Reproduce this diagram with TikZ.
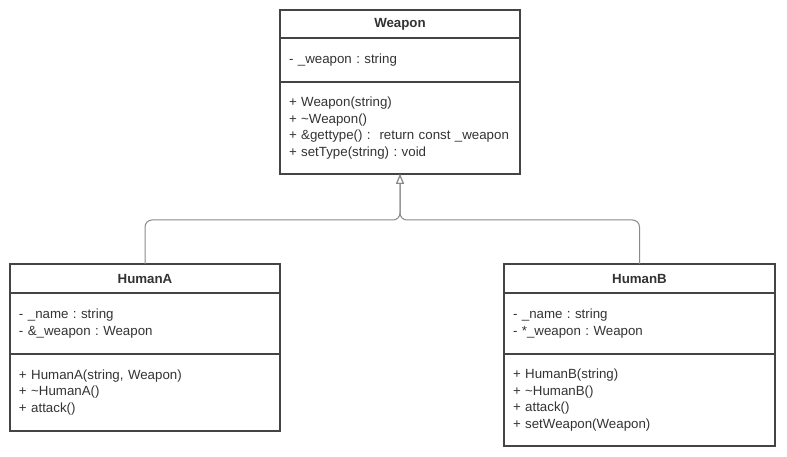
\documentclass[tikz,border=0pt]{standalone}
\usepackage{fontspec}
\setmainfont{Liberation Sans}
\usepackage{xcolor}
\usetikzlibrary{arrows.meta,positioning}
\frenchspacing
\definecolor{boxline}{HTML}{444444}
\definecolor{txtc}{HTML}{333333}
\definecolor{linkc}{HTML}{8A8A8A}
\tikzset{
  clsname/.style={draw=boxline, line width=1.5pt, inner sep=0pt, outer sep=0pt,
    align=center, text=txtc, font=\fontsize{13.3}{16.5}\selectfont\bfseries},
  clsbody/.style={draw=boxline, line width=1.5pt, inner xsep=9pt, inner ysep=0pt,
    outer sep=0pt, align=left, text=txtc, font=\fontsize{13.3}{16.5}\selectfont},
  inherit/.style={draw=linkc, line width=1pt, rounded corners=7pt,
    -{Triangle[open, length=10pt, width=8pt]}}
}

\begin{document}
\begin{tikzpicture}[x=1pt, y=-1pt]
  \useasboundingbox (0,0) rectangle (787,457);

  % base class
  \node[clsname, minimum width=240, minimum height=28, anchor=north west] (wpn) at (280,10) {Weapon};
  \node[clsbody, text width=222, minimum height=44, below=0pt of wpn] (wpnattr)
    {- \_weapon : string};
  \node[clsbody, text width=222, minimum height=92, below=0pt of wpnattr] (wpnmeth)
    {+ Weapon(string)\\+ \textasciitilde Weapon()\\+ \&gettype() :\ \ return const \_weapon\\+ setType(string) : void};

  % HumanA
  \node[clsname, minimum width=270, minimum height=29, anchor=north west] (huma) at (10,264) {HumanA};
  \node[clsbody, text width=252, minimum height=61, below=0pt of huma] (humaattr)
    {- \_name : string\\- \&\_weapon : Weapon};
  \node[clsbody, text width=252, minimum height=77, below=0pt of humaattr] (humameth)
    {+ HumanA(string, Weapon)\\+ \textasciitilde HumanA()\\+ attack()};

  % HumanB
  \node[clsname, minimum width=271, minimum height=29, anchor=north west] (humb) at (504,264) {HumanB};
  \node[clsbody, text width=253, minimum height=61, below=0pt of humb] (humbattr)
    {- \_name : string\\- *\_weapon : Weapon};
  \node[clsbody, text width=253, minimum height=92, below=0pt of humbattr] (humbmeth)
    {+ HumanB(string)\\+ \textasciitilde HumanB()\\+ attack()\\+ setWeapon(Weapon)};

  % inheritance
  \coordinate (join) at (wpnmeth.south |- 0,220);
  \draw[inherit] (huma.north) |- (join) -- (wpnmeth.south);
  \draw[inherit] (humb.north) |- (join) -- (wpnmeth.south);
\end{tikzpicture}
\end{document}
